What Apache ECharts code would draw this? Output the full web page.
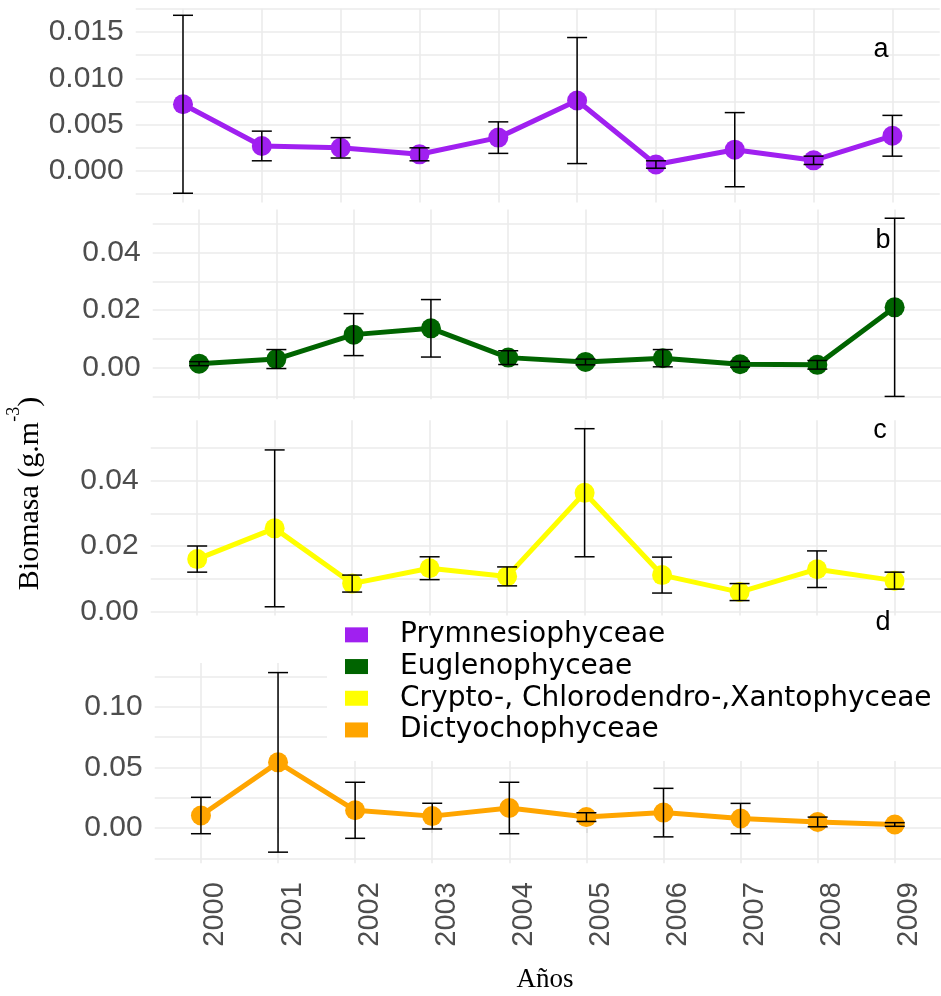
<!DOCTYPE html>
<html>
<head>
<meta charset="utf-8">
<script src="https://cdn.jsdelivr.net/npm/echarts@6/dist/echarts.min.js"></script>
<style>
  html, body { margin: 0; padding: 0; background: #fff; }
  #chart { width: 941px; height: 996px; }
</style>
</head>
<body>
<div id="chart"></div>
<script>
// categorias (años)
var years = ['2000', '2001', '2002', '2003', '2004', '2005', '2006', '2007', '2008', '2009'];

// medias y error (+/-) por clase
var prymMean = [0.0072, 0.0027, 0.0025, 0.0018, 0.0036, 0.0076, 0.0007, 0.0023, 0.00115, 0.0038];
var prymErr  = [0.0096, 0.0016, 0.0011, 0.0007, 0.0017, 0.0068, 0.0004, 0.0040, 0.00045, 0.0022];

var euglMean = [0.0014, 0.0030, 0.0115, 0.0137, 0.0035, 0.0020, 0.0033, 0.0012, 0.0010, 0.0210];
var euglErr  = [0.0007, 0.0033, 0.0073, 0.0100, 0.0024, 0.0010, 0.0030, 0.0010, 0.0015, 0.0310];

var cryptMean = [0.0160, 0.0254, 0.0085, 0.0132, 0.0107, 0.0363, 0.0111, 0.0059, 0.0129, 0.0094];
var cryptErr  = [0.0040, 0.0240, 0.0026, 0.0035, 0.0029, 0.0196, 0.0055, 0.0026, 0.0056, 0.0026];

var dictMean = [0.0103, 0.0541, 0.0146, 0.0098, 0.0165, 0.0090, 0.0127, 0.0078, 0.0050, 0.0029];
var dictErr  = [0.0150, 0.0740, 0.0231, 0.0106, 0.0212, 0.0036, 0.0200, 0.0125, 0.0040, 0.0015];

// marcas del eje y (mayores con etiqueta, menores solo rejilla)
var ticksA = [0, 0.005, 0.010, 0.015];
var minorA = [-0.0025, 0.0025, 0.0075, 0.0125, 0.0175];
var ticksB = [0, 0.02, 0.04];
var minorB = [-0.01, 0.01, 0.03, 0.05];
var ticksC = [0, 0.02, 0.04];
var minorC = [0.01, 0.03, 0.05];
var ticksD = [0, 0.05, 0.10];
var minorD = [-0.025, 0.025, 0.075, 0.125];

var panels = [
  { name: 'Prymnesiophyceae', color: '#A020F0', mean: prymMean, err: prymErr, ticks: ticksA, minor: minorA, dec: 3,
    min: -0.0034, max: 0.0175, left: 135.7, top: 8.8, height: 193.7, letter: 'a', lx: 881, ly: 49.5 },
  { name: 'Euglenophyceae', color: '#006400', mean: euglMean, err: euglErr, ticks: ticksB, minor: minorB, dec: 2,
    min: -0.011, max: 0.055, left: 152.7, top: 209.6, height: 189.7, letter: 'b', lx: 883, ly: 240.5 },
  { name: 'Crypto-, Chlorodendro-,Xantophyceae', color: '#FFFF00', mean: cryptMean, err: cryptErr, ticks: ticksC, minor: minorC, dec: 2,
    min: -0.0013, max: 0.0585, left: 150.7, top: 420.2, height: 195.4, letter: 'c', lx: 880, ly: 431 },
  { name: 'Dictyochophyceae', color: '#FFA500', mean: dictMean, err: dictErr, ticks: ticksD, minor: minorD, dec: 2,
    min: -0.029, max: 0.136, left: 154.7, top: 663, height: 200.2, letter: 'd', lx: 883, ly: 622.5 }
];

var catIdx = years.map(function (y, i) { return i; });
var gridColor = '#ebebeb';

// barras de error: linea vertical + dos topes
function renderErr(params, api) {
  var x = api.value(0);
  var lo = api.coord([x, api.value(1)]);
  var hi = api.coord([x, api.value(2)]);
  var w = 10;
  var st = { stroke: '#000', lineWidth: 1.5 };
  return {
    type: 'group',
    children: [
      { type: 'line', shape: { x1: lo[0], y1: lo[1], x2: hi[0], y2: hi[1] }, style: st },
      { type: 'line', shape: { x1: lo[0] - w, y1: lo[1], x2: lo[0] + w, y2: lo[1] }, style: st },
      { type: 'line', shape: { x1: hi[0] - w, y1: hi[1], x2: hi[0] + w, y2: hi[1] }, style: st }
    ]
  };
}

var grids = [], xAxes = [], yAxes = [], series = [], graphics = [];

// fondo blanco de la leyenda (tapa la rejilla del panel d)
graphics.push({ type: 'rect', z: 1, shape: { x: 327, y: 617, width: 614, height: 144 }, style: { fill: '#fff' } });

panels.forEach(function (p, i) {
  var last = i === panels.length - 1;
  grids.push({ left: p.left, top: p.top, width: 804, height: p.height, containLabel: false });

  xAxes.push({
    type: 'value', gridIndex: i, min: -0.6, max: 9.6,
    axisLine: { show: false },
    axisTick: { show: last, customValues: catIdx, length: 5, lineStyle: { color: '#d9d9d9', width: 1.5 } },
    axisLabel: {
      show: last, customValues: catIdx, rotate: 90, verticalAlign: 'top', margin: 19,
      fontSize: 29, color: '#4d4d4d', fontFamily: 'Liberation Sans',
      formatter: function (v) { return years[Math.round(v)]; }
    },
    splitLine: { show: true, lineStyle: { color: gridColor, width: 1.6 } }
  });

  yAxes.push({
    type: 'value', gridIndex: i, min: p.min, max: p.max,
    axisLine: { show: false },
    axisTick: { show: false, customValues: p.ticks.concat(p.minor) },
    axisLabel: {
      customValues: p.ticks, margin: 12, fontSize: 30, color: '#4d4d4d', fontFamily: 'Liberation Sans',
      formatter: (function (d) { return function (v) { return v.toFixed(d); }; })(p.dec)
    },
    splitLine: { show: true, lineStyle: { color: gridColor, width: 1.6 } }
  });

  series.push({
    name: p.name, type: 'line', xAxisIndex: i, yAxisIndex: i, z: 2,
    symbol: 'circle', symbolSize: 20, showSymbol: true,
    lineStyle: { color: p.color, width: 5 },
    itemStyle: { color: p.color, borderWidth: 0 },
    data: p.mean.map(function (v, j) { return [j, v]; })
  });

  series.push({
    type: 'custom', xAxisIndex: i, yAxisIndex: i, z: 3,
    renderItem: renderErr,
    encode: { x: 0, y: [1, 2] },
    data: p.mean.map(function (v, j) { return [j, v - p.err[j], v + p.err[j]]; })
  });

  graphics.push({
    type: 'text', x: p.lx, y: p.ly, z: 5,
    style: { text: p.letter, fontSize: 27, fontFamily: 'Liberation Sans', fill: '#000', align: 'center', verticalAlign: 'middle' }
  });
});

// titulos de ejes
graphics.push({
  type: 'text', x: 30, y: 493.5, rotation: Math.PI / 2, z: 5,
  style: {
    text: '{n|Biomasa (g.m}{s|-3}{n|)}', align: 'center', verticalAlign: 'middle',
    rich: {
      n: { fontSize: 30, fontFamily: 'Liberation Serif', fill: '#000', lineHeight: 50 },
      s: { fontSize: 18, fontFamily: 'Liberation Serif', fill: '#000', lineHeight: 18, verticalAlign: 'top' }
    }
  }
});
graphics.push({
  type: 'text', x: 545, y: 979.5, z: 5,
  style: { text: 'Años', fontSize: 27, fontFamily: 'Liberation Serif', fill: '#000', align: 'center', verticalAlign: 'middle' }
});

var myChart = echarts.init(document.getElementById('chart'), null, { renderer: 'canvas' });
myChart.setOption({
  animation: false,
  backgroundColor: '#fff',
  grid: grids,
  xAxis: xAxes,
  yAxis: yAxes,
  legend: {
    data: panels.map(function (p) { return p.name; }),
    orient: 'vertical', left: 327, top: 617, padding: [2, 0, 0, 18],
    itemWidth: 23, itemHeight: 15, itemGap: 0, icon: 'rect', selectedMode: false,
    textStyle: { fontSize: 28, fontFamily: 'DejaVu Sans', color: '#000', lineHeight: 31.7, padding: [0, 0, 0, 27] }
  },
  graphic: graphics,
  series: series
});
</script>
</body>
</html>
